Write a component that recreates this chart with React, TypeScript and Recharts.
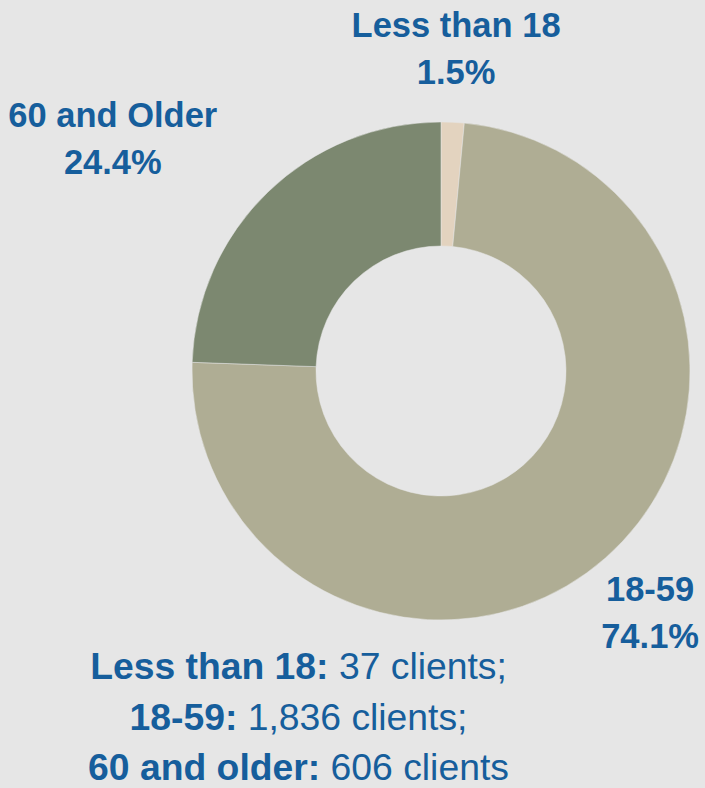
import { Pie, PieChart, Cell } from "recharts";

const ageGroups = ["Less than 18", "18-59", "60 and Older"];
const captionNames = ["Less than 18", "18-59", "60 and older"];
const clientCounts = [37, 1836, 606];
const sliceColors = ["#e3d3bf", "#afad94", "#7c8870"];

const BLUE = "#165e9c";
const FONT = "'Liberation Sans', Arial, sans-serif";
const RAD = Math.PI / 180;
const LABEL_SIZE = 34.5;

const chartData = ageGroups.map((name, i) => ({ name, value: clientCounts[i] }));

let measureCtx: CanvasRenderingContext2D | null = null;
function textWidth(text: string, size: number) {
  if (!measureCtx) measureCtx = document.createElement("canvas").getContext("2d");
  if (!measureCtx) return text.length * size * 0.6;
  measureCtx.font = `bold ${size}px ${FONT}`;
  return measureCtx.measureText(text).width;
}

function renderLabel(props: any) {
  const { cx, cy, midAngle, percent, name } = props;
  const r = 322;
  const cos = Math.cos(-midAngle * RAD);
  let x = cx + r * cos;
  const y = cy + r * Math.sin(-midAngle * RAD);
  const pct = `${(percent * 100).toFixed(1)}%`;
  const w = Math.max(textWidth(name, LABEL_SIZE), textWidth(pct, LABEL_SIZE));
  // labels on the left side sit with their right edge on the anchor point
  if (cos < -0.5) x -= w / 2;
  x = Math.min(Math.max(x, w / 2 + 6), 705 - w / 2 - 6);
  return (
    <text x={x} textAnchor="middle" fill={BLUE} fontFamily={FONT} fontSize={LABEL_SIZE} fontWeight="bold">
      <tspan x={x} y={y - 12}>{name}</tspan>
      <tspan x={x} y={y + 35}>{pct}</tspan>
    </text>
  );
}

export default function App() {
  return (
    <div style={{ position: "relative", width: 705, height: 788, background: "#e6e6e6" }}>
      <style>{`body{margin:0}`}</style>
      <PieChart width={705} height={788} margin={{ top: 0, right: 0, bottom: 0, left: 0 }}>
        <Pie
          data={chartData}
          dataKey="value"
          nameKey="name"
          cx={441}
          cy={371}
          innerRadius={125}
          outerRadius={249}
          startAngle={90}
          endAngle={-270}
          stroke="#e6e6e6"
          strokeWidth={0.5}
          label={renderLabel}
          labelLine={false}
          isAnimationActive={false}
        >
          {chartData.map((d, i) => (
            <Cell key={d.name} fill={sliceColors[i]} />
          ))}
        </Pie>
      </PieChart>
      <svg width={705} height={788} style={{ position: "absolute", left: 0, top: 0 }}>
        {captionNames.map((name, i) => (
          <text
            key={name}
            x={298.5}
            y={679 + i * 50.5}
            textAnchor="middle"
            fill={BLUE}
            fontFamily={FONT}
            fontSize={37.3}
          >
            <tspan fontWeight="bold">{name}:</tspan>
            <tspan>{` ${clientCounts[i].toLocaleString("en-US")} clients${i < captionNames.length - 1 ? ";" : ""}`}</tspan>
          </text>
        ))}
      </svg>
    </div>
  );
}
